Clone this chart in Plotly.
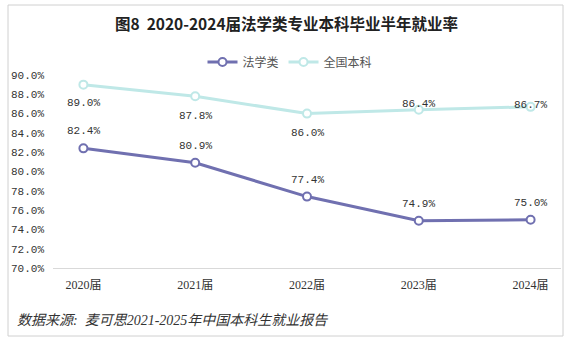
import plotly.graph_objects as go

categories = ["2020届", "2021届", "2022届", "2023届", "2024届"]
law = [82.4, 80.9, 77.4, 74.9, 75.0]
national = [89.0, 87.8, 86.0, 86.4, 86.7]
y_ticks = [70, 72, 74, 76, 78, 80, 82, 84, 86, 88, 90]
y_tick_text = [f"{v:.1f}%" for v in y_ticks]

title_text = "图8  2020-2024届法学类专业本科毕业半年就业率"
source_text = "数据来源:  麦可思2021-2025年中国本科生就业报告"

W, H = 573, 342
L, R, T, B = 53, 12, 75, 74
pw, ph = W - L - R, H - T - B

law_color = "#7070B0"
nat_color = "#BFE8E7"
mono = "Liberation Mono, Noto Sans CJK SC, monospace"

fig = go.Figure()
fig.add_trace(go.Scatter(
    x=categories, y=law, name="法学类", mode="lines+markers",
    line=dict(color=law_color, width=3),
    marker=dict(symbol="circle", size=8, color="white", line=dict(color=law_color, width=2)),
))
fig.add_trace(go.Scatter(
    x=categories, y=national, name="全国本科", mode="lines+markers",
    line=dict(color=nat_color, width=3),
    marker=dict(symbol="circle", size=8, color="white", line=dict(color=nat_color, width=2)),
))

law_shift = [17, 17, 17, 17, 17]
nat_shift = [-18, -20, -19, 6, 2]
for c, v, s in zip(categories, law, law_shift):
    fig.add_annotation(x=c, y=v, text=f"{v:.1f}%", showarrow=False, yshift=s,
                       font=dict(family=mono, size=11, color="#333"))
for c, v, s in zip(categories, national, nat_shift):
    fig.add_annotation(x=c, y=v, text=f"{v:.1f}%", showarrow=False, yshift=s,
                       font=dict(family=mono, size=11, color="#333"))

fig.add_annotation(xref="paper", yref="paper", x=(15 - L) / pw, y=(H - B - 320) / ph,
                   xanchor="left", yanchor="middle", showarrow=False,
                   text=f"<i>{source_text}</i>",
                   font=dict(family="Liberation Serif, Noto Sans CJK SC, serif", size=14, color="#333"))

# outer frame
fig.add_shape(type="rect", xref="paper", yref="paper",
              x0=(8 - L) / pw, x1=(563 - L) / pw,
              y0=(H - B - 336) / ph, y1=(H - B - 5) / ph,
              line=dict(color="#D0D0D0", width=1), fillcolor="rgba(0,0,0,0)", layer="below")

fig.update_layout(
    width=W, height=H,
    margin=dict(l=L, r=R, t=T, b=B, pad=0),
    paper_bgcolor="white", plot_bgcolor="white",
    title=dict(text=f"<b>{title_text}</b>", x=0.5, xref="container", xanchor="center",
               y=1 - 25 / H, yref="container", yanchor="middle",
               font=dict(family="Noto Sans CJK SC, sans-serif", size=15.5, color="#222")),
    legend=dict(orientation="h", x=(290 - L) / pw, xanchor="center", y=(H - B - 62) / ph,
                yanchor="middle", font=dict(family="Noto Sans CJK SC, sans-serif", size=12, color="#555"),
                itemwidth=30, bgcolor="rgba(0,0,0,0)"),
    showlegend=True,
)
fig.update_xaxes(type="category", showgrid=False, showline=True, linecolor="#D9D9D9", linewidth=1,
                 ticks="", tickfont=dict(family="Liberation Serif, Noto Sans CJK SC, serif", size=12, color="#333"),
                 ticklabelstandoff=6)
fig.update_yaxes(range=[70, 90], tickvals=y_ticks, ticktext=y_tick_text, showgrid=False,
                 zeroline=False, showline=False, ticks="",
                 tickfont=dict(family=mono, size=11, color="#333"), ticklabelstandoff=8)

fig.write_html("out.html")
